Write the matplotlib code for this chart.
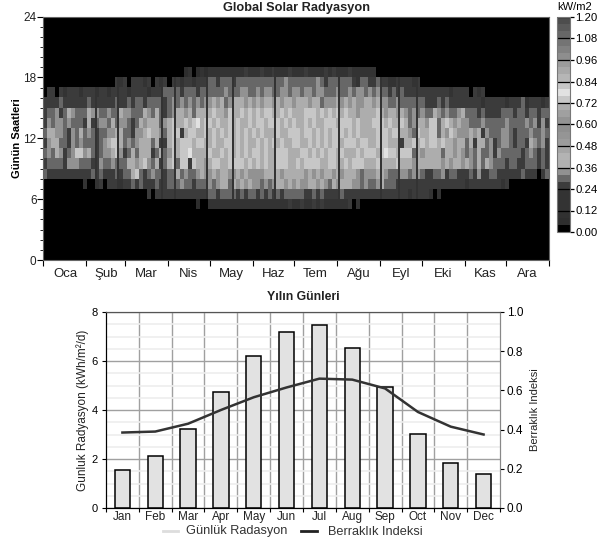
import numpy as np
import matplotlib
matplotlib.use('Agg')
import matplotlib.pyplot as plt
from matplotlib.colors import LinearSegmentedColormap

plt.rcParams['font.family'] = ['Liberation Sans', 'DejaVu Sans']

# one character = about 3 days, index into levels
hour_18 = "00000000 00000000 00000000 00000000 00012012 12222222 22322232 23222322 23222232 32223222 22200000 00000000 00000000 00000000 00000000 000000"
hour_17 = "00000000 00000000 00323033 32303230 33233233 34434543 45454554 55456445 45456534 44545325 43343322 33332300 00000000 00000000 00000000 000000"
hour_16 = "03303233 32333233 23333233 33233344 45345434 54555645 56655656 65566566 56656645 56556566 56565534 34333333 33333233 33032300 00000000 000000"
hour_15 = "33334333 33343333 33433435 53545434 65656465 66767567 77676767 76767767 77677566 67676766 77676645 65554553 33434333 33333233 33323334 233323"
hour_14 = "35463476 54576655 65576655 57657435 67767577 77877687 78787878 87787877 78887878 78787767 77787677 67646565 57656556 75553433 33545344 345354"
hour_13 = "36566464 55373466 57566535 76777567 87787897 88787787 87787887 88878787 78787788 87888787 77888787 78756776 88578767 66545645 45565454 656363"
hour_12 = "47766536 57464355 66775536 67877657 88378877 87878787 87878787 77877888 78878787 88878787 77788878 87765877 88576876 66767365 45665344 565464"
hour_11 = "36774536 56455346 78874656 77757337 87888788 77877887 87877878 78787788 77878787 88788878 87788877 73778787 88787767 75737746 35665344 376463"
hour_10 = "46576356 88674356 67863574 77735746 87889777 78778787 87878878 77888777 88787878 87877787 88878988 78885767 77757767 64657456 36444453 565353"
hour_09 = "34445366 65443365 56545776 78657347 85883877 67887788 88787878 77888778 78888778 87787888 77787777 87776777 77767677 67657476 45534533 445353"
hour_08 = "43333333 33334343 33534578 53565535 47565467 66767766 76766667 77767777 76767677 67677765 66677655 56646653 35563553 33436335 43333334 333035"
hour_07 = "00000000 00200230 33323343 43334335 55655354 56567757 67676656 56776767 66776765 76777665 65467544 33333333 33333333 32333333 33230000 000000"
hour_06 = "00000000 00000000 00000000 00303333 33333333 34434444 34344343 43434544 43343433 33433333 33333333 33323333 20200000 00000000 00000000 000000"
hour_05 = "00000000 00000000 00000000 00000000 00000010 02222222 22222222 22222322 32232322 22223020 00000000 00000000 00000000 00000000 00000000 000000"

# kW/m2 for each character above
levels = [0.0, 0.06, 0.14, 0.25, 0.28, 0.31, 0.60, 0.68, 0.73, 0.77]

# overcast days that show as thin dark stripes
dark_days = [38, 55, 86, 95, 118, 137, 168, 213, 244, 257, 270]

day_rows = [hour_05, hour_06, hour_07, hour_08, hour_09, hour_10, hour_11,
            hour_12, hour_13, hour_14, hour_15, hour_16, hour_17, hour_18]
first_hour = 5

month_days = [0, 31, 59, 90, 120, 151, 181, 212, 243, 273, 304, 334, 365]
tr_months = ['Oca', 'Şub', 'Mar', 'Nis', 'May', 'Haz', 'Tem', 'Ağu', 'Eyl', 'Eki', 'Kas', 'Ara']
en_months = ['Jan', 'Feb', 'Mar', 'Apr', 'May', 'Jun', 'Jul', 'Aug', 'Sep', 'Oct', 'Nov', 'Dec']

radiation = [1.55, 2.13, 3.23, 4.75, 6.2, 7.17, 7.47, 6.55, 4.93, 3.02, 1.82, 1.37]
clearness = [0.385, 0.39, 0.43, 0.50, 0.565, 0.615, 0.66, 0.655, 0.61, 0.49, 0.415, 0.375]

W, H = 598.0, 544.0


def box(x0, y0, x1, y1):
    # pixel box to figure fractions
    return [x0 / W, 1 - y1 / H, (x1 - x0) / W, (y1 - y0) / H]


grid = np.zeros((24, 126))
for i, row in enumerate(day_rows):
    digits = row.replace(' ', '').ljust(126, '0')
    grid[first_hour + i] = [levels[int(c)] for c in digits[:126]]
grid = np.repeat(grid, 2, axis=1)
for d in dark_days:
    col = int(d / 365 * grid.shape[1])
    grid[:, col] = np.where(grid[:, col] > 0, np.minimum(grid[:, col], 0.14), 0)

stops = [(0.0, 0.0), (0.035, 0.0), (0.04, 0.18), (0.12, 0.2), (0.24, 0.2), (0.30, 0.45), (0.36, 0.68),
         (0.40, 0.72), (0.48, 0.62), (0.60, 0.55), (0.72, 0.7), (0.78, 0.9), (0.84, 0.75),
         (0.96, 0.6), (1.08, 0.45), (1.20, 0.3)]
cmap = LinearSegmentedColormap.from_list(
    'solar', [(v / 1.2, (g, g, g)) for v, g in stops], N=30)

fig = plt.figure(figsize=(W / 100, H / 100), dpi=100)

# heat map
ax = fig.add_axes(box(43.5, 16.5, 549, 260))
im = ax.imshow(grid, origin='lower', extent=[0, 365, 0, 24], aspect='auto',
               cmap=cmap, vmin=0, vmax=1.2, interpolation='nearest')
ax.set_xticks(month_days)
ax.set_xticklabels([])
ax.set_xticks([(a + b) / 2 for a, b in zip(month_days[:-1], month_days[1:])], minor=True)
ax.set_xticklabels(tr_months, minor=True, fontsize=9.5, color='#222222')
ax.tick_params(axis='x', which='major', length=4, width=0.8)
ax.tick_params(axis='x', which='minor', length=0, pad=6)
ax.set_yticks([0, 6, 12, 18, 24])
ax.set_yticks(range(25), minor=True)
ax.tick_params(axis='y', which='major', length=4, width=0.8, labelsize=8.5, pad=1, labelcolor='#222222')
ax.tick_params(axis='y', which='minor', length=2, width=0.6)
for s in ax.spines.values():
    s.set_color('#666666')
ax.set_ylabel('Günün Saatleri', fontsize=8, fontweight='bold', labelpad=0.7)
fig.text(296.5 / W, 1 - 8 / H, 'Global Solar Radyasyon', ha='center', va='center',
         fontsize=9.2, fontweight='bold', color='#222222')

# colour bar
cax = fig.add_axes(box(556.5, 17, 570, 232))
bar_ticks = [0.0, 0.12, 0.24, 0.36, 0.48, 0.60, 0.72, 0.84, 0.96, 1.08, 1.20]
cb = fig.colorbar(im, cax=cax, ticks=bar_ticks)
cb.ax.set_yticklabels(['%.2f' % t for t in bar_ticks], fontsize=8.2)
cb.ax.tick_params(length=3, width=0.9, pad=1, color='black')
cb.ax.hlines(bar_ticks, 0, 1, color='black', lw=0.9)
cb.outline.set_edgecolor('#777777')
fig.text(575 / W, 1 - 7 / H, 'kW/m2', ha='center', va='center', fontsize=8)

# monthly chart
ax2 = fig.add_axes(box(106, 312, 500, 508))
x = np.arange(12)
ax2.set_xlim(-0.5, 11.5)
ax2.set_ylim(0, 8)
ax2.set_axisbelow(True)
ax2.set_yticks(np.arange(0, 8.1, 0.5), minor=True)
ax2.set_yticks([0, 2, 4, 6, 8])
ax2.yaxis.grid(True, which='minor', color='#eeeeee', lw=1.2)
ax2.yaxis.grid(True, which='major', color='#a0a0a0', lw=1.0)
for edge in np.arange(0.5, 11):
    ax2.axvline(edge, color='#a0a0a0', lw=1.0, zorder=0.5)
ax2.bar(x, radiation, width=0.47, color='#e2e2e2', edgecolor='black', lw=1.1, zorder=2)
ax2.set_xticks(np.arange(-0.5, 12))
ax2.set_xticklabels([])
ax2.set_xticks(x, minor=True)
ax2.set_xticklabels(en_months, minor=True, fontsize=8.5, color='#222222')
ax2.tick_params(axis='x', which='major', length=3, width=0.8)
ax2.tick_params(axis='x', which='minor', length=0, pad=2)
ax2.tick_params(axis='y', which='major', length=3, width=0.8, labelsize=8, pad=3)
ax2.tick_params(axis='y', which='minor', length=0)
ax2.set_ylabel('Gunluk Radyasyon (kWh/m²/d)', fontsize=8.5, labelpad=1.5, color='#222222')
ax2.set_title('Yılın Günleri', fontsize=8.8, fontweight='bold', pad=9, color='#222222')

ax3 = ax2.twinx()
ax3.set_ylim(0, 1)
ax3.set_yticks([0, 0.2, 0.4, 0.6, 0.8, 1.0])
ax3.tick_params(axis='y', length=3, width=0.8, labelsize=8.5, pad=2)
ax3.plot(x, clearness, color='#333333', lw=1.8, zorder=5)
ax3.set_ylabel('Berraklık Indeksi', fontsize=8, labelpad=5, color='#222222')

for a in (ax2, ax3):
    a.spines['right'].set_color('#888888')
    a.spines['top'].set_color('#555555')

# legend, placed by hand like the original
leg_y = 1 - 531 / H
fig.add_artist(plt.Line2D([163 / W, 178 / W], [leg_y, leg_y], color='#dddddd', lw=2))
fig.text(186 / W, leg_y, 'Günlük Radasyon', va='center', fontsize=9.2, color='#333333')
fig.add_artist(plt.Line2D([301 / W, 317 / W], [leg_y, leg_y], color='#222222', lw=2))
fig.text(328 / W, leg_y - 0.002, 'Berraklık Indeksi', va='center', fontsize=9.2, color='#333333')

fig.savefig('out.png', dpi=100)
